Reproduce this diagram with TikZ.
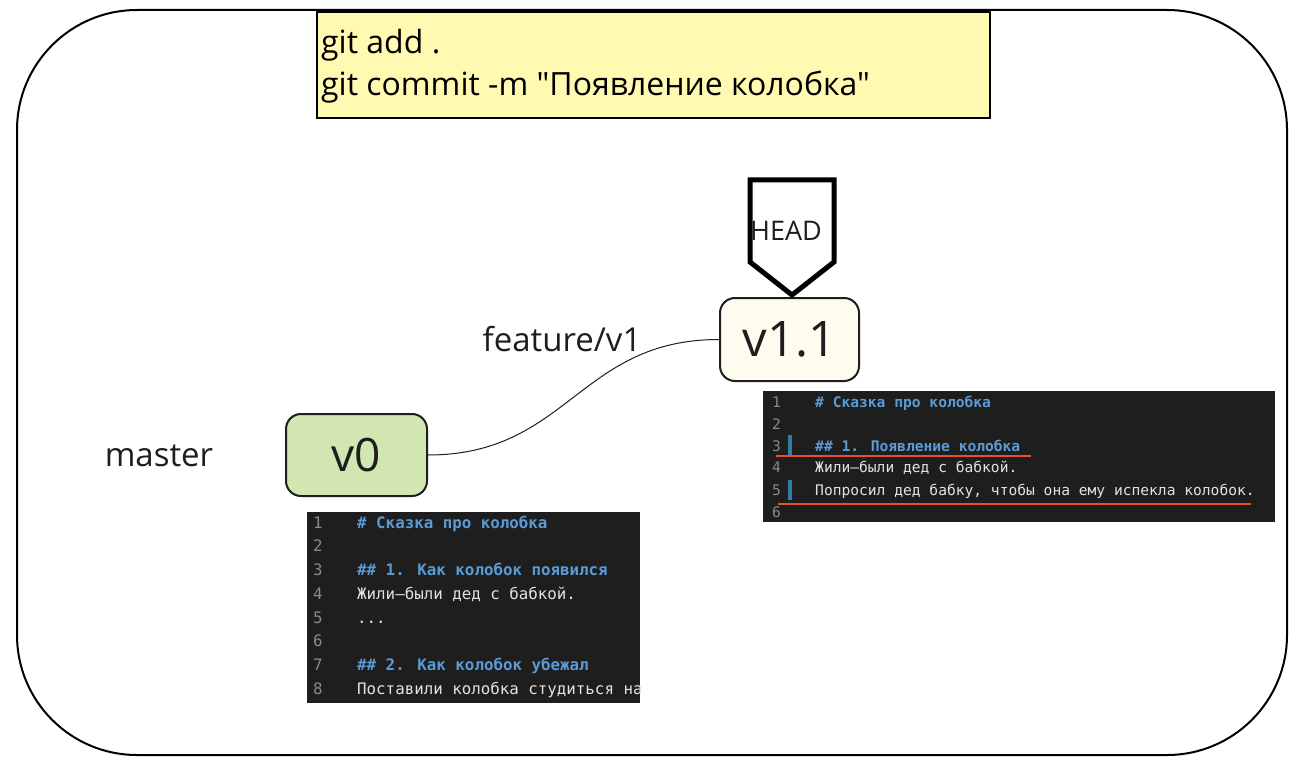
\documentclass[tikz,border=0pt]{standalone}
\usepackage{fontspec}
\setmainfont{Open Sans}[Ligatures=TeXOff]
\newfontfamily\codefont{DejaVu Sans Mono}
\definecolor{noteyellow}{HTML}{FFF9B1}
\definecolor{greenbox}{HTML}{D1E6B0}
\definecolor{creambox}{HTML}{FEFCEE}
\definecolor{codebg}{HTML}{1E1E1E}
\definecolor{codeblue}{HTML}{5B9BD5}
\definecolor{codetext}{HTML}{E2E2E2}
\definecolor{codenum}{HTML}{8A8A8A}
\definecolor{gutterbar}{HTML}{2E7FA5}
\definecolor{redline}{HTML}{E5512A}
\definecolor{textdark}{HTML}{1E1E1E}
\begin{document}
\begin{tikzpicture}[x=1pt,y=-1pt,
  commitbox/.style={draw=textdark, line width=2pt, rounded corners=15pt, minimum width=140pt, minimum height=83pt, inner sep=0pt, text=textdark},
  label/.style={font=\fontsize{33}{37}\selectfont, text=textdark, inner sep=0pt},
  notetext/.style={font=\fontsize{32}{36}\selectfont, text=black, inner sep=0pt, anchor=base west},
  codebox/.style={fill=codebg, draw=none, inner sep=0pt, anchor=north west},
  cnum/.style={text=codenum, inner sep=0pt, anchor=base west},
  chead/.style={text=codeblue, inner sep=0pt, anchor=base west, font=\codefont\bfseries\csize},
  cline/.style={text=codetext, inner sep=0pt, anchor=base west, font=\codefont\csize},
]
\useasboundingbox (0,0) rectangle (1298,770);
% outer frame
\draw[line width=2pt, rounded corners=120pt] (17,10) rectangle (1287,755);
% note
\node (note) [draw=black, line width=2pt, fill=noteyellow, minimum width=673pt, minimum height=106pt, anchor=north west, inner sep=0pt] at (316,11) {};
\node (cmd1) [notetext] at (321,54) {git add .};
\node (cmd2) [notetext] at (321,96) {git commit -m "Появление колобка"};
% commits
\node (v0) [commitbox, fill=greenbox, minimum width=141pt, minimum height=82pt, font=\fontsize{46}{50}\selectfont] at (356.5,455) {v0};
\node (v11) [commitbox, fill=creambox, minimum width=139pt, minimum height=83pt, font=\fontsize{49}{53}\selectfont] at (789.5,339.5) {v1.1};
\draw[line width=1pt, textdark] (v0.east) .. controls +(140,0) and +(-140,0) .. (v11.west);
% labels
\node (master) [label] at (159,456) {master};
\node (feature) [label] at (562,339) {feature/v1};
% HEAD pointer
\coordinate (headtip) at (792,295);
\draw[line width=5pt, line join=miter, black] (750,180) -- (834,180) -- (834,262) -- (headtip) -- (750,262) -- cycle;
\node (head) [font=\fontsize{27}{31}\selectfont, text=textdark, inner sep=0pt] at (786,231) {HEAD};
% right code box
\def\csize{\fontsize{14.6}{17}\selectfont}
\node (coderight) [codebox, minimum width=512pt, minimum height=131pt] at (763,391) {};
\begin{scope}[every node/.append style={font=\codefont\csize}]
\node (r1n) [cnum] at (772,407) {1};
\node (r2n) [cnum] at (772,429) {2};
\node (r3n) [cnum] at (772,451) {3};
\node (r4n) [cnum] at (772,472) {4};
\node (r5n) [cnum] at (772,495) {5};
\node (r6n) [cnum] at (772,517) {6};
\end{scope}
\fill[gutterbar] (788,435) rectangle (792,455);
\fill[gutterbar] (788,480) rectangle (792,500);
\node (r1) [chead] at (815,407) {\# Сказка про колобка};
\node (r3) [chead] at (815,451) {\#\# 1. Появление колобка};
\node (r4) [cline] at (815,472) {Жили–были дед с бабкой.};
\node (r5) [cline] at (815,495) {Попросил дед бабку, чтобы она ему испекла колобок.};
\coordinate (u1a) at (776,456);
\coordinate (u1b) at (1031,456);
\coordinate (u2a) at (778,504);
\coordinate (u2b) at (1251,504);
\draw[redline, line width=2pt] (u1a) -- (u1b);
\draw[redline, line width=2pt] (u2a) -- (u2b);
% left code box
\def\csize{\fontsize{15.8}{18}\selectfont}
\node (codeleft) [codebox, minimum width=333pt, minimum height=191pt] at (307,512) {};
\begin{scope}
\clip (307,512) rectangle (640,703);
\begin{scope}[every node/.append style={font=\codefont\csize}]
\node (l1n) [cnum] at (313,528) {1};
\node (l2n) [cnum] at (313,551) {2};
\node (l3n) [cnum] at (313,575) {3};
\node (l4n) [cnum] at (313,599) {4};
\node (l5n) [cnum] at (313,623) {5};
\node (l6n) [cnum] at (313,646) {6};
\node (l7n) [cnum] at (313,670) {7};
\node (l8n) [cnum] at (313,694) {8};
\end{scope}
\node (l1) [chead] at (357,528) {\# Сказка про колобка};
\node (l3) [chead] at (357,575) {\#\# 1. Как колобок появился};
\node (l4) [cline] at (357,599) {Жили–были дед с бабкой.};
\node (l5) [cline] at (357,623) {...};
\node (l7) [chead] at (357,670) {\#\# 2. Как колобок убежал};
\node (l8) [cline] at (357,694) {Поставили колобка студиться на окно};
\end{scope}
\end{tikzpicture}
\end{document}
